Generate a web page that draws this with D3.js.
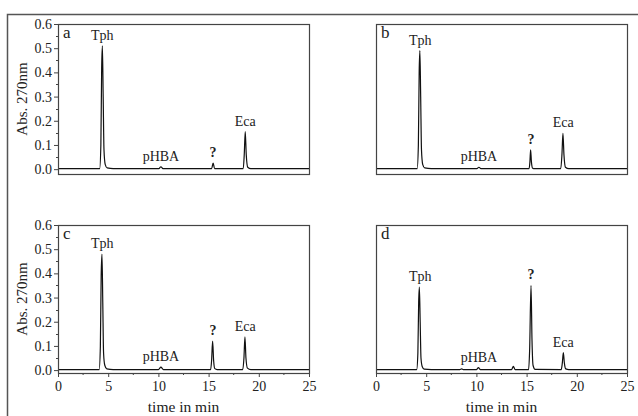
<!DOCTYPE html>
<html>
<head>
<meta charset="utf-8">
<script src="https://cdn.jsdelivr.net/npm/d3@7"></script>
<style>
  body { margin: 0; background: #fff; }
  svg { display: block; font-family: "Liberation Serif", "Times New Roman", serif; }
</style>
</head>
<body>
<script>
// chart values
var panelNames = ["a", "b", "c", "d"];
var xTicks = [0, 5, 10, 15, 20, 25];
var yTicks = [0.0, 0.1, 0.2, 0.3, 0.4, 0.5, 0.6];
var peakNames = ["Tph", "pHBA", "?", "Eca"];
var peakTimes = [4.4, 10.25, 15.45, 18.65];

// chromatogram traces, [time in min, absorbance]
var traceA = [[0, 0.002], [4.15, 0.002], [4.27, 0.1], [4.35, 0.42], [4.42, 0.51], [4.5, 0.3], [4.58, 0.08], [4.7, 0.02], [4.9, 0.005], [5.5, 0.002],
  [10.05, 0.002], [10.25, 0.01], [10.45, 0.002],
  [15.3, 0.002], [15.45, 0.025], [15.6, 0.002],
  [18.45, 0.002], [18.55, 0.06], [18.65, 0.155], [18.75, 0.06], [18.9, 0.008], [19.2, 0.002], [25, 0.002]];
var traceB = [[0, 0.002], [4.1, 0.002], [4.22, 0.1], [4.3, 0.4], [4.37, 0.49], [4.45, 0.3], [4.53, 0.08], [4.65, 0.02], [4.85, 0.005], [5.5, 0.002],
  [10.05, 0.002], [10.25, 0.008], [10.45, 0.002],
  [15.25, 0.002], [15.33, 0.03], [15.4, 0.08], [15.48, 0.03], [15.6, 0.004], [15.8, 0.002],
  [18.4, 0.002], [18.52, 0.06], [18.62, 0.148], [18.72, 0.06], [18.87, 0.008], [19.2, 0.002], [25, 0.002]];
var traceC = [[0, 0.002], [4.1, 0.002], [4.22, 0.1], [4.3, 0.39], [4.38, 0.48], [4.46, 0.28], [4.54, 0.07], [4.66, 0.02], [4.86, 0.005], [5.5, 0.002],
  [10.0, 0.002], [10.25, 0.012], [10.5, 0.002],
  [15.2, 0.002], [15.3, 0.04], [15.4, 0.12], [15.5, 0.04], [15.62, 0.006], [15.85, 0.002],
  [18.4, 0.002], [18.52, 0.05], [18.62, 0.138], [18.72, 0.05], [18.87, 0.008], [19.2, 0.002], [25, 0.002]];
var traceD = [[0, 0.002], [4.05, 0.002], [4.17, 0.07], [4.25, 0.28], [4.32, 0.343], [4.4, 0.2], [4.48, 0.05], [4.6, 0.015], [4.8, 0.004], [5.5, 0.002],
  [8.35, 0.002], [8.53, 0.005], [8.7, 0.002],
  [10.0, 0.002], [10.2, 0.01], [10.4, 0.002],
  [13.5, 0.002], [13.68, 0.015], [13.86, 0.002],
  [15.2, 0.002], [15.3, 0.08], [15.44, 0.35], [15.54, 0.12], [15.64, 0.02], [15.85, 0.003],
  [18.45, 0.002], [18.56, 0.03], [18.66, 0.072], [18.76, 0.03], [18.9, 0.005], [19.2, 0.002], [25, 0.002]];

var traces = [traceA, traceB, traceC, traceD];

var w = 638, h = 416;

var svg = d3.select("body").append("svg")
  .attr("width", w)
  .attr("height", h);

// outer frame (only top and left edge visible)
svg.append("path")
  .attr("d", "M7.5,416 L7.5,14.5 L638,14.5")
  .attr("fill", "none")
  .attr("stroke", "#555")
  .attr("stroke-width", 1.5);

// panel boxes: left, right, top, bottom, bottom of y domain
var boxes = [
  {x0: 58, x1: 309, y0: 24, y1: 174, ymin: -0.02, yAxis: true, xAxis: false},
  {x0: 376, x1: 627, y0: 24, y1: 174, ymin: -0.02, yAxis: false, xAxis: false},
  {x0: 58, x1: 309, y0: 225, y1: 373, ymin: -0.012, yAxis: true, xAxis: true},
  {x0: 376, x1: 627, y0: 225, y1: 373, ymin: -0.012, yAxis: false, xAxis: true}
];

var line = d3.line().curve(d3.curveMonotoneX);

boxes.forEach(function(b, i) {
  var x = d3.scaleLinear().domain([0, 25]).range([b.x0, b.x1]);
  var y = d3.scaleLinear().domain([b.ymin, 0.6]).range([b.y1, b.y0]);
  var g = svg.append("g");

  if (b.yAxis) {
    var ya = g.append("g")
      .attr("transform", "translate(" + b.x0 + ",0)")
      .call(d3.axisLeft(y).tickValues(yTicks).tickFormat(d3.format(".1f")).tickSize(4).tickPadding(2));
    ya.select(".domain").remove();
    ya.selectAll("text").attr("font-size", 14).attr("font-family", "Liberation Serif").attr("fill", "#222");
    ya.selectAll("line").attr("stroke", "#444");
    // minor ticks
    g.selectAll(".ymin").data(yTicks.slice(0, -1).map(function(d) { return d + 0.05; }))
      .enter().append("line")
      .attr("x1", b.x0 - 2).attr("x2", b.x0)
      .attr("y1", function(d) { return Math.round(y(d)) + 0.5; })
      .attr("y2", function(d) { return Math.round(y(d)) + 0.5; })
      .attr("stroke", "#444");

    g.append("text")
      .attr("transform", "translate(27," + ((b.y0 + b.y1) / 2) + ") rotate(-90)")
      .attr("text-anchor", "middle")
      .attr("font-size", 15)
      .attr("fill", "#222")
      .text("Abs. 270nm");
  }

  if (b.xAxis) {
    var xa = g.append("g")
      .attr("transform", "translate(0," + b.y1 + ")")
      .call(d3.axisBottom(x).tickValues(xTicks).tickSize(4).tickPadding(4));
    xa.select(".domain").remove();
    xa.selectAll("text").attr("font-size", 14).attr("font-family", "Liberation Serif").attr("fill", "#222");
    xa.selectAll("line").attr("stroke", "#444");
    g.selectAll(".xmin").data(xTicks.slice(0, -1).map(function(d) { return d + 2.5; }))
      .enter().append("line")
      .attr("x1", function(d) { return x(d); }).attr("x2", function(d) { return x(d); })
      .attr("y1", b.y1).attr("y2", b.y1 + 2)
      .attr("stroke", "#444");

    g.append("text")
      .attr("x", (b.x0 + b.x1) / 2)
      .attr("y", 412)
      .attr("text-anchor", "middle")
      .attr("font-size", 15.5)
      .attr("fill", "#222")
      .text("time in min");
  }

  // trace
  g.append("path")
    .datum(traces[i])
    .attr("d", line.x(function(d) { return x(d[0]); }).y(function(d) { return y(d[1]); }))
    .attr("fill", "none")
    .attr("stroke", "#111")
    .attr("stroke-width", 1.2);

  // peak labels above each apex
  g.selectAll(".peak").data(peakNames)
    .enter().append("text")
    .attr("x", function(d, k) { return x(peakTimes[k]); })
    .attr("y", function(d, k) {
      var top = d3.max(traces[i].filter(function(p) { return Math.abs(p[0] - peakTimes[k]) < 0.4; }), function(p) { return p[1]; });
      return y(top) - 6;
    })
    .attr("text-anchor", "middle")
    .attr("font-size", 14)
    .attr("font-weight", function(d) { return d == "?" ? "bold" : "normal"; })
    .attr("fill", "#222")
    .text(function(d) { return d; });

  // panel letter
  g.append("text")
    .attr("x", b.x0 + 5)
    .attr("y", b.y0 + 14)
    .attr("font-size", 17)
    .attr("fill", "#222")
    .text(panelNames[i]);

  // box
  g.append("rect")
    .attr("x", b.x0 + 0.5).attr("y", b.y0 + 0.5)
    .attr("width", b.x1 - b.x0).attr("height", b.y1 - b.y0)
    .attr("fill", "none")
    .attr("stroke", "#444")
    .attr("stroke-width", 1.2);
});
</script>
</body>
</html>
